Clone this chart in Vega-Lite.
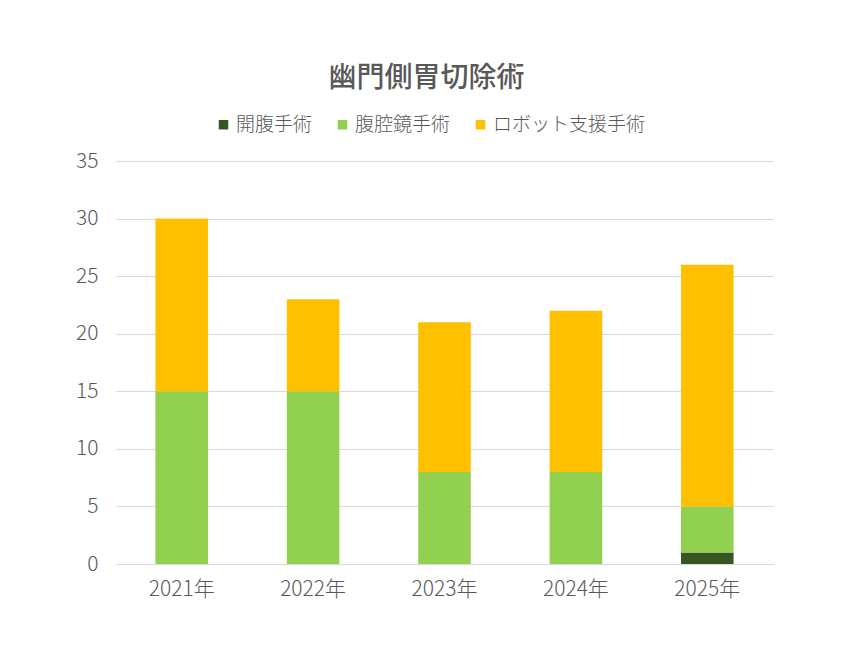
{
  "$schema": "https://vega.github.io/schema/vega-lite/v6.json",
  "autosize": "none",
  "width": 657,
  "height": 403,
  "padding": {"left": 116, "top": 161, "right": 77, "bottom": 81},
  "background": "white",
  "title": {
    "text": "幽門側胃切除術",
    "anchor": "middle",
    "dx": -18,
    "offset": 22,
    "font": "Noto Sans CJK JP",
    "fontSize": 28,
    "fontWeight": 500,
    "color": "#595959"
  },
  "data": {
    "values": [
      {"year": "2021年", "type": "開腹手術", "ord": 1, "count": 0},
      {"year": "2021年", "type": "腹腔鏡手術", "ord": 2, "count": 15},
      {"year": "2021年", "type": "ロボット支援手術", "ord": 3, "count": 15},
      {"year": "2022年", "type": "開腹手術", "ord": 1, "count": 0},
      {"year": "2022年", "type": "腹腔鏡手術", "ord": 2, "count": 15},
      {"year": "2022年", "type": "ロボット支援手術", "ord": 3, "count": 8},
      {"year": "2023年", "type": "開腹手術", "ord": 1, "count": 0},
      {"year": "2023年", "type": "腹腔鏡手術", "ord": 2, "count": 8},
      {"year": "2023年", "type": "ロボット支援手術", "ord": 3, "count": 13},
      {"year": "2024年", "type": "開腹手術", "ord": 1, "count": 0},
      {"year": "2024年", "type": "腹腔鏡手術", "ord": 2, "count": 8},
      {"year": "2024年", "type": "ロボット支援手術", "ord": 3, "count": 14},
      {"year": "2025年", "type": "開腹手術", "ord": 1, "count": 1},
      {"year": "2025年", "type": "腹腔鏡手術", "ord": 2, "count": 4},
      {"year": "2025年", "type": "ロボット支援手術", "ord": 3, "count": 21}
    ]
  },
  "mark": {"type": "bar"},
  "encoding": {
    "x": {
      "field": "year",
      "type": "nominal",
      "sort": null,
      "scale": {"paddingInner": 0.6, "paddingOuter": 0.3},
      "axis": {
        "title": null,
        "labelAngle": 0,
        "ticks": false,
        "domainColor": "#D9D9D9",
        "labelPadding": 14,
        "labelFontSize": 21
      }
    },
    "y": {
      "field": "count",
      "type": "quantitative",
      "stack": "zero",
      "scale": {"domain": [0, 35]},
      "axis": {
        "title": null,
        "values": [0, 5, 10, 15, 20, 25, 30, 35],
        "ticks": false,
        "domain": false,
        "gridColor": "#D9D9D9",
        "labelPadding": 18,
        "labelFontSize": 21
      }
    },
    "color": {
      "field": "type",
      "type": "nominal",
      "scale": {
        "domain": ["開腹手術", "腹腔鏡手術", "ロボット支援手術"],
        "range": ["#375623", "#92D050", "#FFC000"]
      },
      "legend": {
        "title": null,
        "orient": "none",
        "direction": "horizontal",
        "legendX": 98,
        "legendY": -46,
        "symbolType": "square",
        "symbolSize": 90,
        "symbolStrokeWidth": 0,
        "labelFontSize": 19,
        "columnPadding": 20,
        "labelOffset": 3
      }
    },
    "order": {"field": "ord", "type": "quantitative"}
  },
  "config": {
    "font": "Noto Sans CJK JP",
    "view": {"stroke": null},
    "axis": {"labelColor": "#595959", "labelFont": "Noto Sans CJK JP", "labelFontWeight": 300},
    "legend": {"labelColor": "#595959", "labelFont": "Noto Sans CJK JP", "labelFontWeight": 300}
  }
}
